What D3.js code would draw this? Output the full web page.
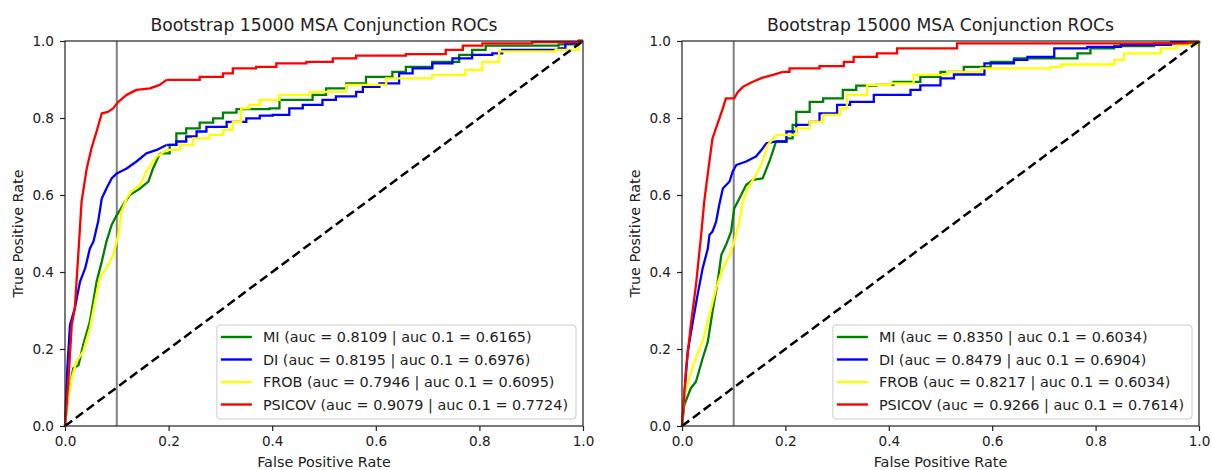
<!DOCTYPE html>
<html>
<head>
<meta charset="utf-8">
<script src="https://cdn.jsdelivr.net/npm/d3@7"></script>
<style>
  html, body { margin: 0; padding: 0; background: #fff; }
  svg { display: block; }
  text { font-family: "DejaVu Sans", sans-serif; fill: #222; }
</style>
</head>
<body>
<svg id="chart" width="1212" height="470"></svg>
<script>
// ---------------- DATA ----------------
const titleText = "Bootstrap 15000 MSA Conjunction ROCs";
const xLabelText = "False Positive Rate";
const yLabelText = "True Positive Rate";
const xTicks = [0, 0.2, 0.4, 0.6, 0.8, 1.0];
const yTicks = [0, 0.2, 0.4, 0.6, 0.8, 1.0];
const seriesNames = ["MI", "DI", "FROB", "PSICOV"];
const seriesColors = ["#008000", "#0000ff", "#ffff00", "#ff0000"];
const cutoffFpr = 0.1;

// Left panel legend values
const leftAuc = ["0.8109", "0.8195", "0.7946", "0.9079"];
const leftAuc01 = ["0.6165", "0.6976", "0.6095", "0.7724"];
// Right panel legend values
const rightAuc = ["0.8350", "0.8479", "0.8217", "0.9266"];
const rightAuc01 = ["0.6034", "0.6904", "0.6034", "0.7614"];

// Left panel ROC points [fpr, tpr]
const leftMI = [[0,0],[0.006,0.08],[0.016,0.15],[0.026,0.158],[0.035,0.21],[0.048,0.271],[0.061,0.375],[0.071,0.427],[0.08,0.479],[0.09,0.522],[0.1,0.548],[0.112,0.574],[0.125,0.6],[0.145,0.617],[0.161,0.635],[0.17,0.669],[0.183,0.708],[0.202,0.73],[0.215,0.76],[0.234,0.773],[0.26,0.788],[0.286,0.799],[0.305,0.814],[0.331,0.823],[0.395,0.825],[0.414,0.847],[0.478,0.86],[0.504,0.877],[0.543,0.89],[0.581,0.907],[0.632,0.92],[0.658,0.933],[0.709,0.946],[0.761,0.964],[0.786,0.977],[0.812,0.988],[0.953,0.991],[0.992,1],[1,1]];
const leftDI = [[0,0],[0.0045,0.15],[0.0096,0.262],[0.019,0.306],[0.029,0.375],[0.039,0.41],[0.048,0.461],[0.055,0.479],[0.064,0.531],[0.071,0.591],[0.08,0.617],[0.09,0.643],[0.1,0.656],[0.119,0.669],[0.138,0.687],[0.157,0.708],[0.177,0.717],[0.196,0.73],[0.215,0.739],[0.234,0.752],[0.254,0.765],[0.273,0.777],[0.312,0.79],[0.35,0.799],[0.376,0.806],[0.401,0.808],[0.433,0.825],[0.459,0.834],[0.497,0.847],[0.523,0.856],[0.562,0.868],[0.575,0.881],[0.607,0.89],[0.645,0.916],[0.671,0.929],[0.709,0.942],[0.748,0.955],[0.786,0.964],[0.825,0.968],[0.844,0.977],[0.953,0.981],[0.966,0.994],[0.992,1],[1,1]];
const leftFROB = [[0,0],[0.0045,0.063],[0.013,0.124],[0.022,0.167],[0.035,0.193],[0.048,0.254],[0.058,0.323],[0.067,0.384],[0.08,0.41],[0.093,0.444],[0.103,0.496],[0.109,0.557],[0.119,0.591],[0.128,0.609],[0.145,0.626],[0.157,0.661],[0.177,0.7],[0.196,0.717],[0.222,0.73],[0.247,0.747],[0.279,0.756],[0.305,0.769],[0.324,0.79],[0.34,0.825],[0.356,0.834],[0.376,0.847],[0.414,0.86],[0.472,0.868],[0.543,0.886],[0.62,0.903],[0.709,0.912],[0.773,0.925],[0.806,0.946],[0.838,0.973],[0.947,0.977],[0.992,1],[1,1]];
const leftPSICOV = [[0,0],[0.006,0.106],[0.013,0.262],[0.019,0.306],[0.026,0.453],[0.032,0.583],[0.042,0.669],[0.051,0.721],[0.061,0.765],[0.071,0.812],[0.083,0.816],[0.093,0.825],[0.103,0.842],[0.119,0.86],[0.138,0.873],[0.164,0.877],[0.183,0.886],[0.196,0.899],[0.26,0.907],[0.305,0.916],[0.324,0.929],[0.369,0.933],[0.408,0.942],[0.466,0.946],[0.517,0.955],[0.562,0.962],[0.658,0.966],[0.735,0.977],[0.768,0.988],[0.806,0.994],[0.902,0.997],[0.992,1],[1,1]];

// Right panel ROC points [fpr, tpr]
const rightMI = [[0,0],[0.0045,0.055],[0.017,0.098],[0.027,0.115],[0.04,0.176],[0.05,0.219],[0.059,0.297],[0.069,0.375],[0.076,0.444],[0.085,0.47],[0.095,0.505],[0.101,0.565],[0.111,0.591],[0.124,0.626],[0.137,0.639],[0.156,0.643],[0.169,0.687],[0.182,0.739],[0.202,0.747],[0.214,0.782],[0.221,0.816],[0.247,0.842],[0.273,0.851],[0.298,0.851],[0.311,0.873],[0.337,0.884],[0.376,0.886],[0.409,0.894],[0.461,0.907],[0.5,0.92],[0.545,0.933],[0.597,0.946],[0.642,0.955],[0.765,0.968],[0.79,0.981],[0.836,0.987],[0.913,0.994],[1,1]];
const rightDI = [[0,0],[0.0045,0.08],[0.011,0.193],[0.021,0.271],[0.03,0.34],[0.04,0.41],[0.05,0.461],[0.053,0.496],[0.059,0.505],[0.066,0.531],[0.072,0.574],[0.079,0.617],[0.092,0.635],[0.098,0.661],[0.105,0.678],[0.124,0.687],[0.143,0.7],[0.156,0.721],[0.163,0.734],[0.182,0.739],[0.202,0.765],[0.221,0.782],[0.247,0.79],[0.266,0.812],[0.3,0.834],[0.325,0.842],[0.371,0.86],[0.442,0.873],[0.461,0.885],[0.5,0.903],[0.526,0.913],[0.585,0.942],[0.642,0.951],[0.668,0.959],[0.72,0.981],[0.784,0.985],[0.849,0.99],[0.946,0.997],[1,1]];
const rightFROB = [[0,0],[0.0045,0.08],[0.014,0.124],[0.024,0.167],[0.04,0.219],[0.053,0.288],[0.066,0.358],[0.079,0.41],[0.092,0.444],[0.101,0.479],[0.111,0.531],[0.118,0.583],[0.127,0.617],[0.143,0.652],[0.156,0.687],[0.166,0.73],[0.182,0.756],[0.208,0.756],[0.221,0.773],[0.247,0.79],[0.273,0.808],[0.306,0.825],[0.319,0.86],[0.358,0.886],[0.403,0.89],[0.448,0.912],[0.513,0.92],[0.578,0.929],[0.713,0.933],[0.733,0.939],[0.836,0.951],[0.855,0.968],[0.926,0.981],[0.958,0.99],[1,1]];
const rightPSICOV = [[0,0],[0.008,0.15],[0.017,0.262],[0.027,0.366],[0.037,0.496],[0.043,0.583],[0.053,0.687],[0.059,0.747],[0.069,0.786],[0.079,0.825],[0.085,0.851],[0.101,0.851],[0.108,0.868],[0.118,0.881],[0.137,0.894],[0.156,0.905],[0.176,0.912],[0.195,0.92],[0.208,0.929],[0.266,0.935],[0.313,0.946],[0.332,0.959],[0.377,0.968],[0.416,0.981],[0.532,0.994],[0.978,0.997],[1,1]];

const chanceLine = [[0,0],[1,1]];

// ---------------- DRAW ----------------
const svg = d3.select("#chart");
const plotTop = 41, plotBottom = 426;
const panels = [
  { left: 65, right: 583, series: [leftMI, leftDI, leftFROB, leftPSICOV], auc: leftAuc, auc01: leftAuc01 },
  { left: 682, right: 1199, series: [rightMI, rightDI, rightFROB, rightPSICOV], auc: rightAuc, auc01: rightAuc01 }
];
const fmt = d3.format(".1f");
const stepFrom = 0.2;

panels.forEach(p => {
  const x = d3.scaleLinear().domain([0, 1]).range([p.left, p.right]);
  const y = d3.scaleLinear().domain([0, 1]).range([plotBottom, plotTop]);
  const g = svg.append("g");

  // vertical cutoff line
  g.append("line")
    .attr("x1", x(cutoffFpr)).attr("x2", x(cutoffFpr))
    .attr("y1", y(0)).attr("y2", y(1))
    .attr("stroke", "#808080").attr("stroke-width", 2);

  const lineLin = d3.line().x(d => x(d[0])).y(d => y(d[1])).curve(d3.curveLinear);
  const lineStep = d3.line().x(d => x(d[0])).y(d => y(d[1])).curve(d3.curveStepAfter);

  p.series.forEach((s, i) => {
    const k = s.findIndex(d => d[0] > stepFrom);
    const a = s.slice(0, k);
    const b = s.slice(k - 1);
    g.append("path").attr("d", lineLin(a)).attr("fill", "none")
      .attr("stroke", seriesColors[i]).attr("stroke-width", 2.3).attr("stroke-linejoin", "round");
    g.append("path").attr("d", lineStep(b)).attr("fill", "none")
      .attr("stroke", seriesColors[i]).attr("stroke-width", 2.3).attr("stroke-linejoin", "miter");
  });

  // chance diagonal
  g.append("path").attr("d", lineLin(chanceLine)).attr("fill", "none")
    .attr("stroke", "#000").attr("stroke-width", 2.5).attr("stroke-dasharray", "9,4.5");

  // axes
  const xAxis = d3.axisBottom(x).tickValues(xTicks).tickFormat(fmt).tickSize(5).tickPadding(5.5).tickSizeOuter(0);
  const yAxis = d3.axisLeft(y).tickValues(yTicks).tickFormat(fmt).tickSize(5).tickPadding(6).tickSizeOuter(0);
  const gx = g.append("g").attr("transform", `translate(0,${plotBottom})`).call(xAxis);
  const gy = g.append("g").attr("transform", `translate(${p.left},0)`).call(yAxis);
  [gx, gy].forEach(ax => {
    ax.select(".domain").remove();
    ax.selectAll(".tick line").attr("stroke", "#222").attr("stroke-width", 1.2);
    ax.selectAll(".tick text").attr("font-size", "13.6px").attr("fill", "#222")
      .style("font-family", "'DejaVu Sans', sans-serif");
  });
  gy.selectAll(".tick text").attr("dy", "0.36em");

  // frame
  g.append("rect").attr("x", p.left).attr("y", plotTop)
    .attr("width", p.right - p.left).attr("height", plotBottom - plotTop)
    .attr("fill", "none").attr("stroke", "#222").attr("stroke-width", 1.2);

  // labels
  const cx = (p.left + p.right) / 2;
  g.append("text").attr("x", cx).attr("y", 31).attr("text-anchor", "middle")
    .attr("font-size", "17.2px").text(titleText);
  g.append("text").attr("x", cx).attr("y", 467).attr("text-anchor", "middle")
    .attr("font-size", "14.4px").text(xLabelText);
  g.append("text").attr("transform", `translate(${p.left - 42},${(plotTop + plotBottom) / 2}) rotate(-90)`)
    .attr("text-anchor", "middle").attr("font-size", "14.4px").text(yLabelText);

  // legend (lower right)
  const lg = g.append("g");
  const box = lg.append("rect");
  const rowY = [337, 359.5, 382, 404.5];
  const items = seriesNames.map((n, i) => `${n} (auc = ${p.auc[i]} | auc 0.1 = ${p.auc01[i]})`);
  const texts = items.map((t, i) => lg.append("text").attr("y", rowY[i]).attr("dy", "0.36em")
    .attr("font-size", "14.4px").text(t));
  const maxW = d3.max(texts, t => t.node().getComputedTextLength());
  const boxRight = p.right - 7;
  const txtStart = boxRight - 8 - maxW;
  const handleX2 = txtStart - 11, handleX1 = handleX2 - 31;
  const boxLeft = handleX1 - 4;
  texts.forEach(t => t.attr("x", txtStart));
  seriesNames.forEach((n, i) => {
    lg.append("line").attr("x1", handleX1).attr("x2", handleX2)
      .attr("y1", rowY[i]).attr("y2", rowY[i])
      .attr("stroke", seriesColors[i]).attr("stroke-width", 2.4);
  });
  box.attr("x", boxLeft).attr("y", 325).attr("width", boxRight - boxLeft).attr("height", 94)
    .attr("rx", 3).attr("fill", "#fff").attr("fill-opacity", 0.8)
    .attr("stroke", "#cccccc").attr("stroke-width", 1);
});
</script>
</body>
</html>
